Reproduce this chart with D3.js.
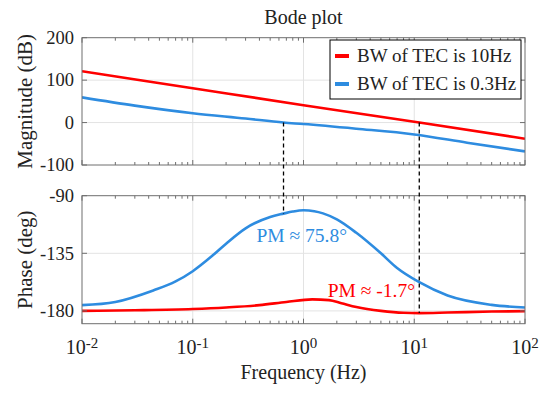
<!DOCTYPE html>
<html>
<head>
<meta charset="utf-8">
<script src="https://cdn.jsdelivr.net/npm/d3@7"></script>
<style>
  body { margin: 0; background: #fff; }
  svg { font-family: "Liberation Serif", "Times New Roman", serif; }
</style>
</head>
<body>
<div id="chart"></div>
<script>
// values
const magFreqRed = [0.01, 0.1, 1, 11.1, 100];
const magRed = [121, 81, 41, 0, -38];
const magFreqBlue = [0.01, 0.03, 0.1, 0.3, 0.66, 1, 3, 10, 30, 100];
const magBlue = [59.5, 40, 22, 9.5, 0, -3.5, -14.5, -28, -47.5, -68];

const phFreqRed = [0.01, 0.03, 0.1, 0.2, 0.4, 0.7, 1.2, 1.7, 2.2, 3, 5, 8, 11.1, 20, 50, 100];
const phRed = [-180, -179.5, -178.5, -177.3, -175.5, -173, -171, -171.6, -174, -177, -180, -181.5, -181.7, -181.3, -180.5, -180.2];
const phFreqBlue = [0.01, 0.02, 0.044, 0.07, 0.1, 0.15, 0.2, 0.3, 0.5, 0.66, 0.8, 1, 1.25, 1.5, 2, 3, 5, 7, 11.1, 20, 50, 100];
const phBlue = [-175.5, -173, -164, -157, -149, -137, -127.5, -115.5, -106.6, -104, -102.4, -101.4, -102.1, -103.8, -108.5, -119, -135, -146.5, -157.6, -168, -175.3, -177.4];

const crossBlue = 0.66, pmBlue = 75.8;
const crossRed = 11.1, pmRed = -1.7;

const decades = [0.01, 0.1, 1, 10, 100];
const decadeExp = ['-2', '-1', '0', '1', '2'];
const magTicks = [-100, 0, 100, 200];
const phaseTicks = [-180, -135, -90];
const seriesNames = ['BW of TEC is 10Hz', 'BW of TEC is 0.3Hz'];

const red = '#ff0000', blue = '#2e8ce0';

const W = 557, H = 393;
const left = 82, right = 525;

const svg = d3.select('#chart').append('svg')
  .attr('width', W)
  .attr('height', H);

const x = d3.scaleLog([0.01, 100], [left, right]);
const yMag = d3.scaleLinear([-100, 200], [165, 37.7]);
const yPh = d3.scaleLinear([-190, -90], [323.7, 195.7]);

const minor = [];
decades.slice(0, -1).forEach(d => { for (let k = 2; k <= 9; k++) minor.push(d * k); });

function panel(yScale, yTicks, clipId) {
  const [y0, y1] = yScale.range();
  const g = svg.append('g');

  // grid
  g.selectAll('.gx').data(decades.slice(1, -1)).join('line')
    .attr('x1', d => x(d)).attr('x2', d => x(d))
    .attr('y1', y1).attr('y2', y0)
    .attr('stroke', '#e3e3e3').attr('stroke-width', 1);
  g.selectAll('.gy').data(yTicks.filter(t => yScale(t) > y1 + 1 && yScale(t) < y0 - 1)).join('line')
    .attr('x1', left).attr('x2', right)
    .attr('y1', d => yScale(d)).attr('y2', d => yScale(d))
    .attr('stroke', '#e3e3e3').attr('stroke-width', 1);

  svg.append('clipPath').attr('id', clipId)
    .append('rect').attr('x', left).attr('y', y1).attr('width', right - left).attr('height', y0 - y1);
  return g;
}

function frame(yScale, yTicks, labels) {
  const [y0, y1] = yScale.range();
  const g = svg.append('g').attr('stroke', '#6e6e6e').attr('stroke-width', 1);
  // x ticks, inside, top and bottom
  [[y0, -1], [y1, 1]].forEach(([yy, dir]) => {
    g.append('g').selectAll('line').data(decades).join('line')
      .attr('x1', d => x(d)).attr('x2', d => x(d))
      .attr('y1', yy).attr('y2', yy + dir * 5);
    g.append('g').selectAll('line').data(minor).join('line')
      .attr('x1', d => x(d)).attr('x2', d => x(d))
      .attr('y1', yy).attr('y2', yy + dir * 3);
  });
  // y ticks, inside, left and right
  [[left, 1], [right, -1]].forEach(([xx, dir]) => {
    g.append('g').selectAll('line').data(yTicks).join('line')
      .attr('x1', xx).attr('x2', xx + dir * 5)
      .attr('y1', d => yScale(d)).attr('y2', d => yScale(d));
  });
  g.append('rect')
    .attr('x', left).attr('y', y1)
    .attr('width', right - left).attr('height', y0 - y1)
    .attr('fill', 'none');

  svg.append('g').selectAll('text').data(yTicks).join('text')
    .attr('x', left - 8)
    .attr('y', d => yScale(d))
    .attr('dy', '0.34em')
    .attr('text-anchor', 'end')
    .attr('font-size', 18.5)
    .attr('fill', '#222')
    .text(d => d);

  svg.append('text')
    .attr('transform', `translate(32, ${(y0 + y1) / 2}) rotate(-90)`)
    .attr('text-anchor', 'middle')
    .attr('font-size', 21)
    .attr('fill', '#222')
    .text(labels);
}

const line = (fs, vs, yScale) => d3.line()
  .x((d, i) => x(fs[i]))
  .y(d => yScale(d))
  .curve(d3.curveMonotoneX)(vs);

// magnitude
const gMag = panel(yMag, magTicks, 'clipMag');
const cMag = svg.append('g').attr('clip-path', 'url(#clipMag)');
cMag.append('path').attr('d', line(magFreqBlue, magBlue, yMag))
  .attr('fill', 'none').attr('stroke', blue).attr('stroke-width', 2.6);
cMag.append('path').attr('d', line(magFreqRed, magRed, yMag))
  .attr('fill', 'none').attr('stroke', red).attr('stroke-width', 2.6);

// phase
const gPh = panel(yPh, phaseTicks, 'clipPh');
const cPh = svg.append('g').attr('clip-path', 'url(#clipPh)');
cPh.append('path').attr('d', line(phFreqBlue, phBlue, yPh))
  .attr('fill', 'none').attr('stroke', blue).attr('stroke-width', 2.6);
cPh.append('path').attr('d', line(phFreqRed, phRed, yPh))
  .attr('fill', 'none').attr('stroke', red).attr('stroke-width', 2.6);

frame(yMag, magTicks, 'Magnitude (dB)');
frame(yPh, phaseTicks, 'Phase (deg)');

// crossover markers
svg.append('g').selectAll('line')
  .data([[crossBlue, pmBlue], [crossRed, pmRed]])
  .join('line')
  .attr('x1', d => x(d[0])).attr('x2', d => x(d[0]))
  .attr('y1', yMag(0))
  .attr('y2', d => yPh(-180 + d[1]))
  .attr('stroke', '#000').attr('stroke-width', 1.3)
  .attr('stroke-dasharray', '4,3');

svg.append('text')
  .attr('x', 347).attr('y', 241.7)
  .attr('text-anchor', 'end')
  .attr('font-size', 19.5)
  .attr('fill', blue)
  .text(`PM \u2248 ${pmBlue}\u00b0`);
svg.append('text')
  .attr('x', 415).attr('y', 296.7)
  .attr('text-anchor', 'end')
  .attr('font-size', 19.5)
  .attr('fill', red)
  .text(`PM \u2248 ${pmRed}\u00b0`);

// x tick labels
const xl = svg.append('g').selectAll('text').data(decades).join('text')
  .attr('x', d => x(d))
  .attr('y', 354)
  .attr('text-anchor', 'middle')
  .attr('font-size', 20)
  .attr('fill', '#222');
xl.append('tspan').text('10');
xl.append('tspan').attr('dy', -6).attr('font-size', 15).text((d, i) => decadeExp[i]);

svg.append('text')
  .attr('x', (left + right) / 2).attr('y', 379)
  .attr('text-anchor', 'middle')
  .attr('font-size', 20)
  .attr('fill', '#222')
  .text('Frequency (Hz)');

svg.append('text')
  .attr('x', (left + right) / 2).attr('y', 23.5)
  .attr('text-anchor', 'middle')
  .attr('font-size', 20)
  .attr('fill', '#222')
  .text('Bode plot');

// legend
const leg = svg.append('g').attr('transform', 'translate(330, 40)');
leg.append('rect').attr('width', 191).attr('height', 59)
  .attr('fill', '#fff').attr('stroke', '#000').attr('stroke-width', 1);
[red, blue].forEach((c, i) => {
  const yy = 16 + i * 28;
  leg.append('line').attr('x1', 5).attr('x2', 19).attr('y1', yy).attr('y2', yy)
    .attr('stroke', c).attr('stroke-width', 4);
  leg.append('text').attr('x', 27).attr('y', yy + 6)
    .attr('font-size', 19)
    .attr('fill', '#222')
    .text(seriesNames[i]);
});
</script>
</body>
</html>
